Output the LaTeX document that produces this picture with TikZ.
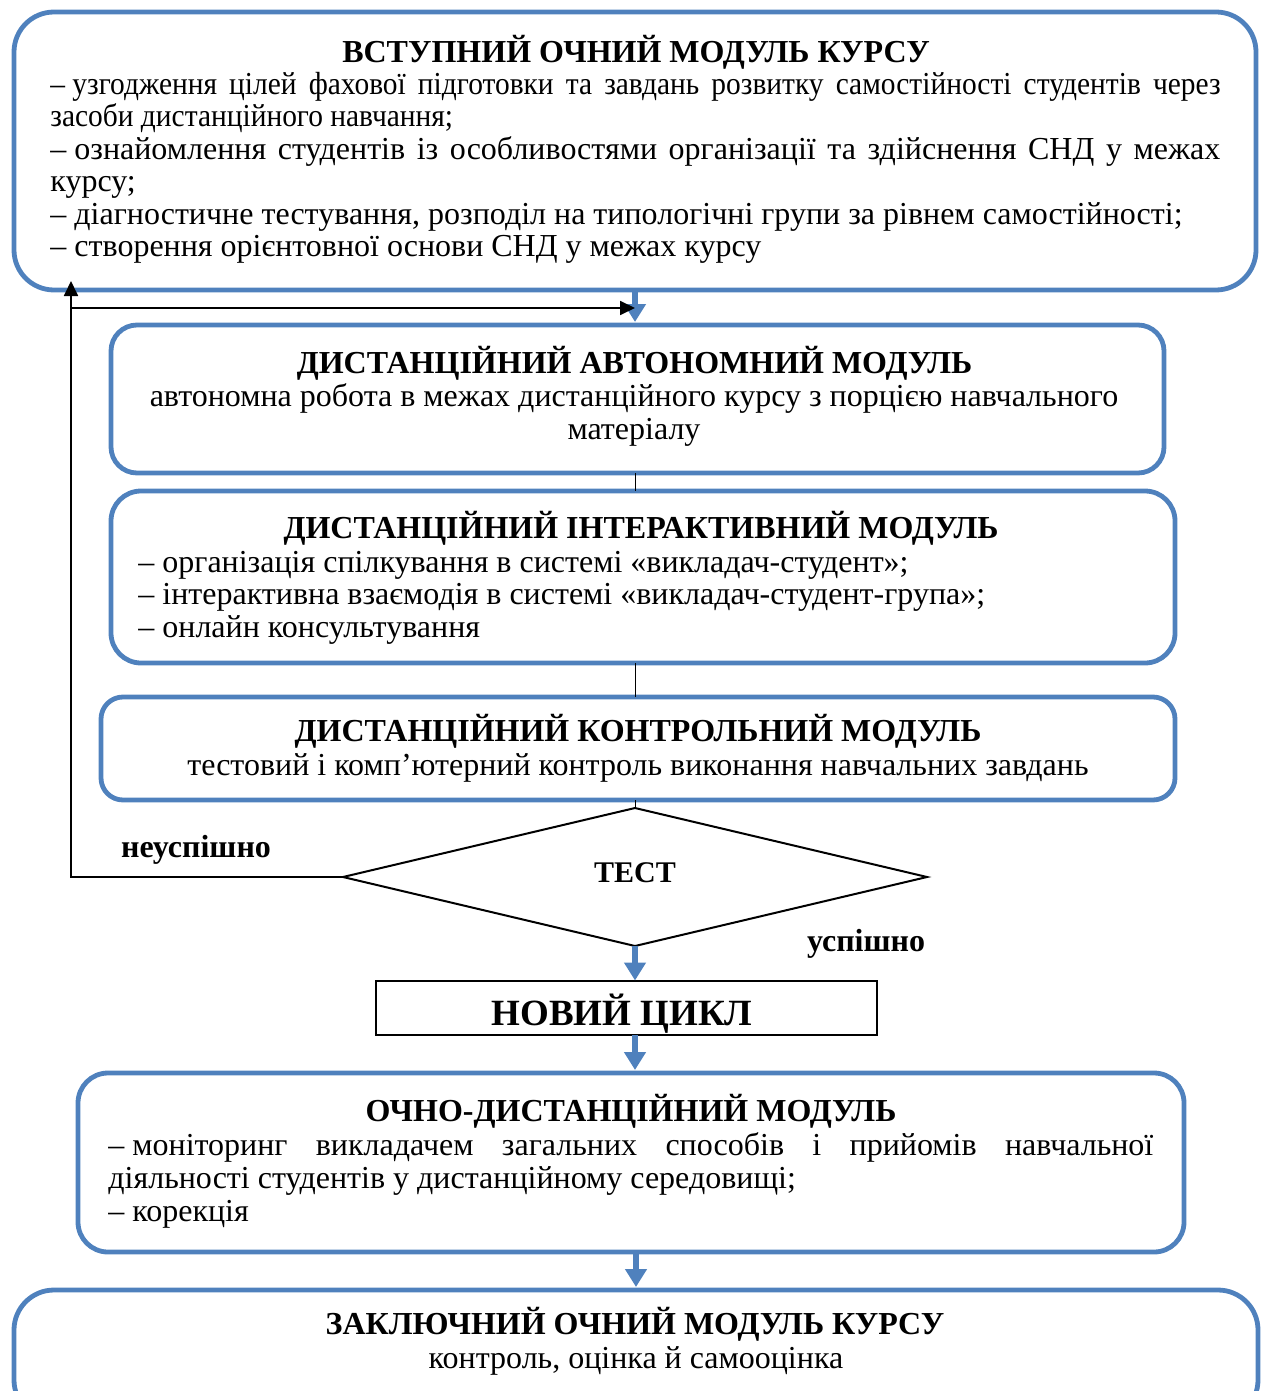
\documentclass[tikz,border=0pt]{standalone}
\usepackage{fontspec}
\setmainfont{Liberation Serif}
\usetikzlibrary{arrows.meta,shapes.geometric}
\definecolor{boxblue}{RGB}{79,129,189}
\begin{document}
\begin{tikzpicture}[x=0.5pt,y=-0.5pt,
  bluebox/.style={draw=boxblue,line width=2.4pt,inner sep=0pt,outer sep=0pt,rectangle},
  ttl/.style={font=\fontsize{16}{18}\selectfont\bfseries,inner sep=0pt,anchor=base},
  txt/.style={font=\fontsize{16}{18}\selectfont,inner sep=0pt,anchor=base west},
  ctxt/.style={font=\fontsize{16}{18}\selectfont,inner sep=0pt,anchor=base},
  barrow/.style={draw=boxblue,line width=3pt,-{Triangle[width=10.5pt,length=9pt]}},
  fbline/.style={draw=black,line width=0.9pt},
  fbarrow/.style={fbline,-{Triangle[width=7pt,length=7.5pt]}},
  thinline/.style={draw=black,line width=0.5pt},
  lbl/.style={font=\fontsize{16}{18}\selectfont\bfseries,inner sep=0pt,anchor=base}]

\useasboundingbox (0,0) rectangle (1267,1391);
\clip (0,0) rectangle (1267,1391);

% boxes
\node[bluebox,rounded corners=20pt,minimum width=621pt,minimum height=139pt] (b1) at (635,151) {};
\node[bluebox,rounded corners=13pt,minimum width=526.5pt,minimum height=74pt] (b2) at (637.5,399) {};
\node[bluebox,rounded corners=15pt,minimum width=532pt,minimum height=86pt] (b3) at (643,577) {};
\node[bluebox,rounded corners=11pt,minimum width=537pt,minimum height=51.5pt] (b4) at (638,748.5) {};
\node[draw=black,diamond,line width=1pt,inner sep=0pt,outer sep=0pt,minimum width=292pt,minimum height=69pt] (d) at (635,877) {};
\node[draw=black,rectangle,line width=1pt,inner sep=0pt,outer sep=0pt,minimum width=250.5pt,minimum height=27pt] (nc) at (626.5,1007.5) {};
\node[font=\fontsize{18.5}{21}\selectfont\bfseries,inner sep=0pt,anchor=base] (nct) at (622,1025) {НОВИЙ ЦИКЛ};
\node[bluebox,rounded corners=15pt,minimum width=553pt,minimum height=89.5pt] (b5) at (631,1162.5) {};
\node[bluebox,rounded corners=20pt,minimum width=622pt,minimum height=65pt] (b6) at (636,1355) {};

% box 1 text
\node[ttl] (t1) at (636,63) {ВСТУПНИЙ ОЧНИЙ МОДУЛЬ КУРСУ};
\node[txt] (t1a) at (50,94.5) {\scalebox{0.92}[1]{\makebox[636pt][s]{–\hspace{4pt}узгодження цілей фахової підготовки та завдань розвитку самостійності студентів через}}};
\node[txt] (t1b) at (50,127) {\scalebox{0.92}[1]{засоби дистанційного навчання;}};
\node[txt] (t1c) at (50,159.3) {\makebox[585pt][s]{–\hspace{4pt}ознайомлення студентів із особливостями організації та здійснення СНД у межах}};
\node[txt] (t1d) at (50,191.7) {курсу;};
\node[txt] (t1e) at (50,224.1) {– діагностичне тестування, розподіл на типологічні групи за рівнем самостійності;};
\node[txt] (t1f) at (50,256.5) {– створення орієнтовної основи СНД у межах курсу};

% box 2 text
\node[ttl] (t2) at (634.5,373) {ДИСТАНЦІЙНИЙ АВТОНОМНИЙ МОДУЛЬ};
\node[ctxt] (t2a) at (634,406) {автономна робота в межах дистанційного курсу з порцією навчального};
\node[ctxt] (t2b) at (634,439) {матеріалу};

% box 3 text
\node[ttl] (t3) at (641,538) {ДИСТАНЦІЙНИЙ ІНТЕРАКТИВНИЙ МОДУЛЬ};
\node[txt] (t3a) at (138,572) {– організація спілкування в системі «викладач-студент»;};
\node[txt] (t3b) at (138,604) {– інтерактивна взаємодія в системі «викладач-студент-група»;};
\node[txt] (t3c) at (138,637) {– онлайн консультування};

% box 4 text
\node[ttl] (t4) at (638,741) {ДИСТАНЦІЙНИЙ КОНТРОЛЬНИЙ МОДУЛЬ};
\node[ctxt] (t4a) at (638,775) {тестовий і комп’ютерний контроль виконання навчальних завдань};

% diamond text and labels
\node[font=\fontsize{15}{17}\selectfont\bfseries,inner sep=0pt,anchor=base] (tt) at (635,882) {ТЕСТ};
\node[lbl] (neusp) at (196,857) {неуспішно};
\node[lbl] (usp) at (866,951) {успішно};

% box 5 text
\node[ttl] (t5) at (631,1121) {ОЧНО-ДИСТАНЦІЙНИЙ МОДУЛЬ};
\node[txt] (t5a) at (108,1155.5) {\makebox[522.5pt][s]{–\hspace{4pt}моніторинг викладачем загальних способів і прийомів навчальної}};
\node[txt] (t5b) at (108,1188.5) {діяльності студентів у дистанційному середовищі;};
\node[txt] (t5c) at (108,1221.5) {– корекція};

% box 6 text
\node[ttl] (t6) at (635,1334) {ЗАКЛЮЧНИЙ ОЧНИЙ МОДУЛЬ КУРСУ};
\node[ctxt] (t6a) at (636,1368) {контроль, оцінка й самооцінка};

% connectors
\draw[barrow,shorten >=1.5pt] (b1.south) -- (b1.south |- b2.north);
\draw[thinline] (b2.south -| d.north) -- (b3.north -| d.north);
\draw[thinline] (b3.south -| d.north) -- (b4.north -| d.north);
\draw[thinline] (b4.south -| d.north) -- (d.north);
\draw[barrow] (d.south) -- (d.south |- nc.north);
\draw[barrow,shorten >=1.5pt] (d.south |- nc.south) -- (d.south |- b5.north);
\draw[barrow,shorten >=1.5pt] (b5.south -| b6.north) -- (b6.north);

% feedback
\coordinate (fbc) at (71,877);
\coordinate (fbt) at (71,281);
\coordinate (fbm) at (71,308);
\draw[fbarrow] (d.west) -- (fbc) -- (fbt);
\draw[fbarrow] (fbm) -- (fbm -| d.north);
\end{tikzpicture}
\end{document}
